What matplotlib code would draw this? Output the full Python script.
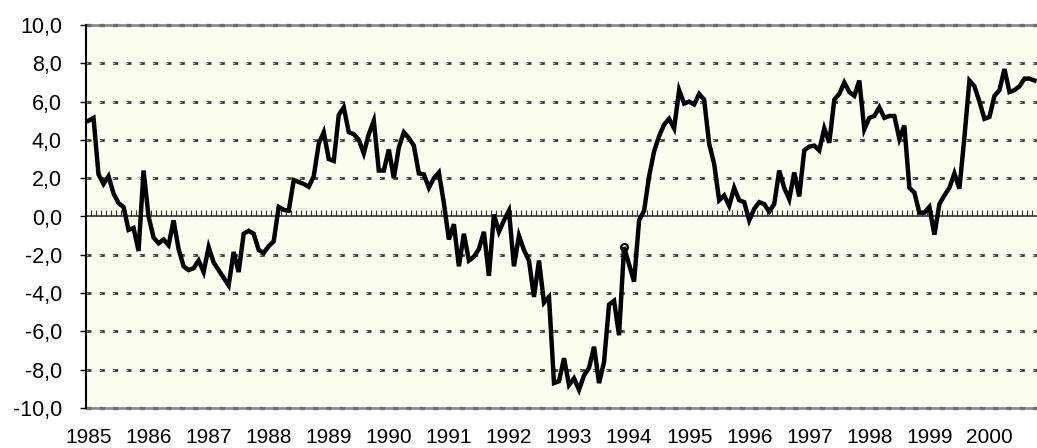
import numpy as np
import matplotlib
matplotlib.use("Agg")
import matplotlib.pyplot as plt
import matplotlib.transforms as mtransforms

plt.rcParams['font.family'] = ['Liberation Sans', 'DejaVu Sans']
plt.rcParams['lines.scale_dashes'] = False

# valeurs mensuelles, janv. 1985 -> oct. 2000
values = [
    5.0, 5.15, 2.2, 1.7, 2.1, 1.2, 0.7, 0.5, -0.7, -0.6, -1.8, 2.4,          # 1985
    0.0, -1.1, -1.4, -1.2, -1.5, -0.2, -1.7, -2.6, -2.8, -2.7, -2.3, -2.9,   # 1986
    -1.6, -2.4, -2.8, -3.2, -3.6, -1.85, -2.9, -0.9, -0.75, -0.9, -1.75, -1.9,  # 1987
    -1.55, -1.3, 0.5, 0.35, 0.3, 1.9, 1.8, 1.7, 1.55, 2.1, 3.8, 4.4,         # 1988
    3.0, 2.9, 5.3, 5.7, 4.4, 4.3, 4.0, 3.3, 4.3, 5.0, 2.4, 2.4,              # 1989
    3.5, 2.0, 3.6, 4.4, 4.1, 3.7, 2.25, 2.2, 1.5, 2.0, 2.3, 0.7,             # 1990
    -1.2, -0.4, -2.6, -0.9, -2.3, -2.1, -1.7, -0.8, -3.1, 0.1, -0.8, -0.2,   # 1991
    0.3, -2.6, -1.0, -1.75, -2.3, -4.2, -2.3, -4.5, -4.2, -8.7, -8.6, -7.4,  # 1992
    -8.8, -8.45, -9.05, -8.3, -7.9, -6.8, -8.7, -7.6, -4.6, -4.4, -6.2, -1.6,  # 1993
    -2.5, -3.4, -0.2, 0.3, 2.1, 3.4, 4.2, 4.8, 5.1, 4.6, 6.6, 5.9,           # 1994
    6.0, 5.85, 6.4, 6.1, 3.8, 2.75, 0.85, 1.1, 0.55, 1.5, 0.85, 0.75,        # 1995
    -0.2, 0.4, 0.75, 0.65, 0.25, 0.65, 2.4, 1.5, 0.9, 2.3, 1.05, 3.45,       # 1996
    3.65, 3.7, 3.45, 4.6, 3.85, 6.1, 6.4, 7.0, 6.5, 6.3, 7.1, 4.55,          # 1997
    5.15, 5.25, 5.7, 5.15, 5.25, 5.25, 4.05, 4.75, 1.5, 1.25, 0.2, 0.2,      # 1998
    0.5, -0.95, 0.65, 1.1, 1.5, 2.25, 1.45, 4.15, 7.1, 6.8, 6.0, 5.1,        # 1999
    5.2, 6.3, 6.6, 7.7, 6.5, 6.6, 6.8, 7.2, 7.2, 7.1,                        # 2000
]
years = list(range(1985, 2001))
y_ticks = np.arange(-10, 11, 2)
marked_point = 107  # petit cercle sur dec. 1993

x = np.arange(len(values))

fig = plt.figure(figsize=(10.37, 4.48), dpi=100)
ax = fig.add_axes([86/1037, 1 - 408/448, 1 - 86/1037, (408 - 25)/448])
ax.set_facecolor('#FFFDEF')

ax.set_xlim(-0.5, len(values) - 0.5)
ax.set_ylim(-10, 10)

# grille pointillee
for yv in y_ticks:
    if abs(yv) == 10:
        ax.axhline(yv, color='#8c8c8c', lw=2.0, zorder=1, clip_on=False)
        ax.axhline(yv, color='#6e6e6e', lw=2.4, linestyle=(0, (3.6, 6)), zorder=1, clip_on=False)
    elif yv != 0:
        ax.axhline(yv, color='#3c3c3c', lw=2.0, linestyle=(0, (3.6, 6)), zorder=1)
        ax.axhline(yv, color='#e8e6da', lw=0.6, linestyle=(0.8, (2.0, 7.6)), zorder=1)

ax.plot(x, values, color='black', lw=3.2, zorder=4, solid_joinstyle='miter')
ax.plot(x[marked_point], values[marked_point], marker='o', ms=5, mfc='none',
        mec='black', mew=1.5, zorder=5)

# axe des categories sur zero, graduations mensuelles
ax.spines['bottom'].set_position(('data', 0))
ax.spines['bottom'].set_linewidth(1.2)
ax.spines['bottom'].set_color('#333333')
ax.set_xticks(np.arange(-0.5, len(values), 1.0))
ax.tick_params(axis='x', direction='in', length=4, width=0.8, color='#333333',
               labelbottom=False)

# annees sous le graphique
trans = mtransforms.blended_transform_factory(ax.transData, ax.transAxes)
for k, yr in enumerate(years):
    ax.text(k * 12, -0.091, str(yr), transform=trans, ha='center', va='baseline',
            fontsize=15)

ax.set_yticks(y_ticks)
ax.set_yticklabels([f"{v:.1f}".replace('.', ',') for v in y_ticks])
ax.tick_params(axis='y', direction='out', length=4.3, width=1, pad=13, labelsize=15.5)

for side in ['top', 'right']:
    ax.spines[side].set_visible(False)
ax.spines['left'].set_linewidth(1.5)
ax.spines['left'].set_zorder(6)

fig.savefig('out.png', dpi=100)
